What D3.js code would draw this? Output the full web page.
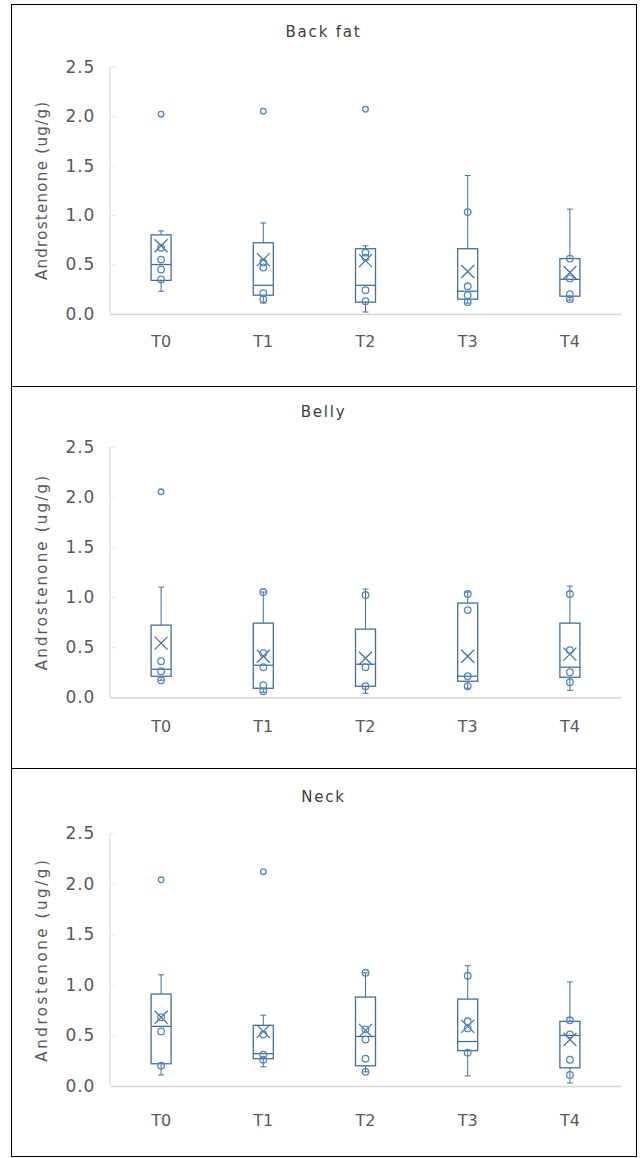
<!DOCTYPE html>
<html><head><meta charset="utf-8">
<script src="https://cdn.jsdelivr.net/npm/d3@7"></script>
<style>body{margin:0;background:#fff}</style>
</head><body>
<svg id="chart" width="642" height="1158"></svg>
<script>
// ---------- data ----------
const categories = ["T0", "T1", "T2", "T3", "T4"];
const panelTitles = ["Back fat", "Belly", "Neck"];
const yTickValues = [0, 0.5, 1.0, 1.5, 2.0, 2.5];
const yAxisTitle = "Androstenone (ug/g)";

const backFatMin    = [0.23, 0.11, 0.02, 0.11, 0.14];
const backFatQ1     = [0.34, 0.19, 0.12, 0.15, 0.18];
const backFatMedian = [0.50, 0.29, 0.29, 0.23, 0.35];
const backFatQ3     = [0.80, 0.72, 0.66, 0.66, 0.56];
const backFatMax    = [0.84, 0.92, 0.69, 1.40, 1.06];
const backFatMean   = [0.69, 0.55, 0.54, 0.43, 0.42];
const backFatPoints = [[0.67, 0.55, 0.45, 0.35], [0.52, 0.47, 0.21, 0.15], [0.62, 0.57, 0.24, 0.13], [1.03, 0.28, 0.19, 0.12], [0.56, 0.36, 0.20, 0.15]];
const backFatOutliers = [[2.02], [2.05], [2.07], [], []];

const bellyMin    = [0.17, 0.05, 0.04, 0.09, 0.07];
const bellyQ1     = [0.21, 0.09, 0.11, 0.16, 0.20];
const bellyMedian = [0.28, 0.32, 0.33, 0.21, 0.30];
const bellyQ3     = [0.72, 0.74, 0.68, 0.94, 0.74];
const bellyMax    = [1.10, 1.05, 1.08, 1.05, 1.11];
const bellyMean   = [0.54, 0.41, 0.39, 0.41, 0.43];
const bellyPoints = [[0.36, 0.26, 0.17], [1.05, 0.44, 0.30, 0.12, 0.06], [1.02, 0.30, 0.11], [1.03, 0.87, 0.21, 0.11], [1.03, 0.47, 0.25, 0.15]];
const bellyOutliers = [[2.05], [], [], [], []];

const neckMin    = [0.11, 0.19, 0.14, 0.10, 0.03];
const neckQ1     = [0.22, 0.27, 0.20, 0.35, 0.18];
const neckMedian = [0.59, 0.32, 0.49, 0.44, 0.50];
const neckQ3     = [0.91, 0.60, 0.88, 0.86, 0.64];
const neckMax    = [1.10, 0.70, 1.12, 1.19, 1.03];
const neckMean   = [0.68, 0.54, 0.55, 0.59, 0.46];
const neckPoints = [[0.68, 0.54, 0.20], [0.51, 0.31, 0.26], [1.12, 0.56, 0.46, 0.27, 0.14], [1.09, 0.64, 0.57, 0.33], [0.65, 0.51, 0.26, 0.11]];
const neckOutliers = [[2.04], [2.12], [], [], []];

// ---------- layout / style ----------
const panels = [
  { title: panelTitles[0], min: backFatMin, q1: backFatQ1, med: backFatMedian, q3: backFatQ3, max: backFatMax, mean: backFatMean, pts: backFatPoints, out: backFatOutliers,
    top: 4, bottom: 386, y0: 314, yTop: 66.7, titleY: 32, xLabY: 341, ls: 1.3 },
  { title: panelTitles[1], min: bellyMin, q1: bellyQ1, med: bellyMedian, q3: bellyQ3, max: bellyMax, mean: bellyMean, pts: bellyPoints, out: bellyOutliers,
    top: 386, bottom: 768, y0: 697.3, yTop: 446.7, titleY: 412, xLabY: 726, ls: 2.2 },
  { title: panelTitles[2], min: neckMin, q1: neckQ1, med: neckMedian, q3: neckQ3, max: neckMax, mean: neckMean, pts: neckPoints, out: neckOutliers,
    top: 768, bottom: 1156, y0: 1086, yTop: 833.3, titleY: 797, xLabY: 1120, ls: 2.6 }
];

const FONT = "DejaVu Sans";
const TEXT = "#595959";
const AXIS = "#d4d4d4";
const BOX = "#41709c";
const PT = "#5585c0";
const left = 11, right = 636, plotL = 110, plotR = 621;
const boxW = 20, capW = 6, xHalf = 6.5, r = 3.3;

const svg = d3.select("#chart");
svg.append("rect").attr("width", 642).attr("height", 1158).attr("fill", "#fff");

panels.forEach(p => {
  const g = svg.append("g");
  g.append("rect").attr("x", left + 0.5).attr("y", p.top + 0.5)
    .attr("width", right - left).attr("height", p.bottom - p.top)
    .attr("fill", "none").attr("stroke", "#000").attr("stroke-width", 1);

  const x = d3.scaleBand().domain(categories).range([plotL, plotR]).paddingInner(0).paddingOuter(0);
  const y = d3.scaleLinear().domain([0, 2.5]).range([p.y0, p.yTop]);

  // title
  g.append("text").attr("x", (left + right) / 2).attr("y", p.titleY).attr("dy", "0.35em")
    .attr("text-anchor", "middle").attr("font-family", FONT).attr("font-size", 15)
    .attr("letter-spacing", 1.8).attr("fill", "#404040").text(p.title);

  // y axis title
  g.append("text").attr("transform", `translate(42,${(p.y0 + p.yTop) / 2}) rotate(-90)`)
    .attr("dy", "0.35em").attr("text-anchor", "middle").attr("font-family", FONT)
    .attr("font-size", 15).attr("letter-spacing", p.ls).attr("fill", TEXT).text(yAxisTitle);

  // y axis
  const ya = g.append("g").attr("transform", `translate(${plotL},0)`)
    .call(d3.axisLeft(y).tickValues(yTickValues).tickFormat(d3.format(".1f")).tickSize(-5).tickPadding(15));
  ya.select(".domain").attr("stroke", AXIS).attr("d", `M0,${p.y0}V${p.yTop}`);
  ya.selectAll(".tick line").attr("stroke", "#e6e6e6");
  ya.selectAll(".tick text").attr("font-family", FONT).attr("font-size", 17)
    .attr("letter-spacing", 0.8).attr("fill", TEXT);

  // x axis
  const xa = g.append("g").attr("transform", `translate(0,${p.y0})`)
    .call(d3.axisBottom(x).tickSize(0).tickPadding(0));
  xa.select(".domain").attr("stroke", AXIS).attr("stroke-width", 1.5);
  xa.selectAll(".tick text").attr("y", p.xLabY - p.y0).attr("dy", "0.35em")
    .attr("font-family", FONT).attr("font-size", 16).attr("fill", TEXT);

  // boxes
  categories.forEach((c, i) => {
    const cx = x(c) + x.bandwidth() / 2;
    const bg = g.append("g");
    // whiskers
    bg.append("line").attr("x1", cx).attr("x2", cx).attr("y1", y(p.q3[i])).attr("y2", y(p.max[i])).attr("stroke", BOX);
    bg.append("line").attr("x1", cx).attr("x2", cx).attr("y1", y(p.q1[i])).attr("y2", y(p.min[i])).attr("stroke", BOX);
    bg.append("line").attr("x1", cx - capW / 2).attr("x2", cx + capW / 2).attr("y1", y(p.max[i])).attr("y2", y(p.max[i])).attr("stroke", BOX);
    bg.append("line").attr("x1", cx - capW / 2).attr("x2", cx + capW / 2).attr("y1", y(p.min[i])).attr("y2", y(p.min[i])).attr("stroke", BOX);
    // box
    bg.append("rect").attr("x", cx - boxW / 2).attr("y", y(p.q3[i])).attr("width", boxW)
      .attr("height", y(p.q1[i]) - y(p.q3[i])).attr("fill", "none").attr("stroke", BOX).attr("stroke-width", 1.3);
    bg.append("line").attr("x1", cx - boxW / 2).attr("x2", cx + boxW / 2).attr("y1", y(p.med[i])).attr("y2", y(p.med[i])).attr("stroke", BOX).attr("stroke-width", 1.3);
    // mean X
    const my = y(p.mean[i]);
    bg.append("path").attr("d", `M${cx - xHalf},${my - xHalf}L${cx + xHalf},${my + xHalf}M${cx - xHalf},${my + xHalf}L${cx + xHalf},${my - xHalf}`)
      .attr("stroke", BOX).attr("stroke-width", 1.2).attr("fill", "none");
    // inner points
    bg.selectAll("circle.pt").data(p.pts[i]).enter().append("circle").attr("class", "pt")
      .attr("cx", cx).attr("cy", d => y(d)).attr("r", r).attr("fill", "none").attr("stroke", PT).attr("stroke-width", 1.3);
    // outliers
    bg.selectAll("circle.out").data(p.out[i]).enter().append("circle").attr("class", "out")
      .attr("cx", cx).attr("cy", d => y(d)).attr("r", 2.8).attr("fill", "none").attr("stroke", PT).attr("stroke-width", 1.3);
  });
});
</script>
</body></html>
